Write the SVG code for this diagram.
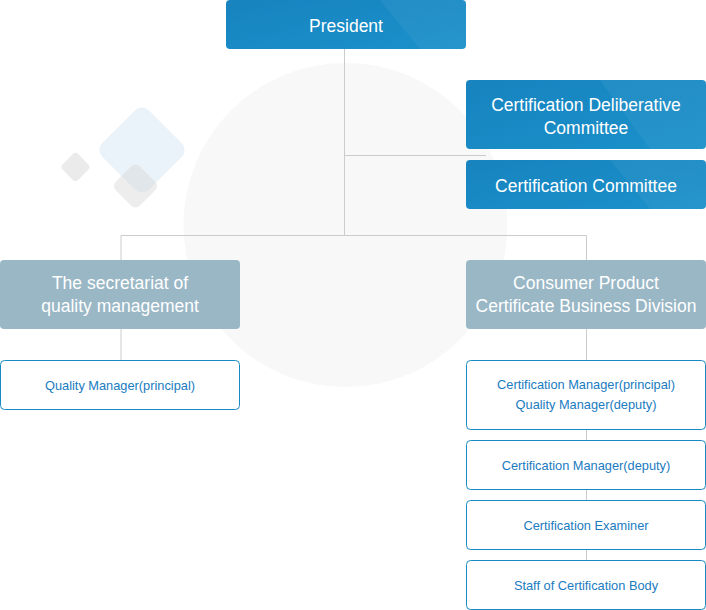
<svg xmlns="http://www.w3.org/2000/svg" width="706" height="610" viewBox="0 0 706 610">
<defs>
<linearGradient id="blue" x1="0" y1="0" x2="1" y2="1">
<stop offset="0" stop-color="#1783bf"/>
<stop offset="1" stop-color="#1a91ca"/>
</linearGradient>
<style>
.blue{fill:url(#blue);}
.grey{fill:#9ab7c6;}
.wbox{fill:#ffffff;stroke:#1a8ac4;stroke-width:1;}
.tl{font-family:"Liberation Sans",Arial,sans-serif;font-size:17.5px;fill:#ffffff;text-anchor:middle;}
.ts{font-family:"Liberation Sans",Arial,sans-serif;font-size:12.8px;fill:#1a7bbf;text-anchor:middle;}
.ln{stroke:#cccccc;stroke-width:1;fill:none;}
.tex{fill:#ffffff;opacity:0.05;}
</style>
</defs>
<rect width="706" height="610" fill="#ffffff"/>
<g id="background">
<circle cx="345.5" cy="225" r="162" fill="#f8f8f8"/>
<rect x="109" y="117" width="66" height="66" rx="10" transform="rotate(45 142 150)" fill="#eaf3f9"/>
<rect x="64.5" y="156" width="22" height="22" rx="4" transform="rotate(45 75.5 167)" fill="#ebebeb"/>
<rect x="118.5" y="169" width="34" height="34" rx="6" transform="rotate(45 135.5 186)" fill="#d8d8d8" opacity="0.45"/>
</g>
<g id="connectors">
<path class="ln" d="M344.5 49 V235.5"/>
<path class="ln" d="M344.5 155.5 H486"/>
<path class="ln" d="M121 235.5 H586.5"/>
<path class="ln" d="M121 235.5 V360"/>
<path class="ln" d="M586.5 235.5 V560"/>
</g>
<g id="president">
<rect class="blue" x="226" y="0" width="240" height="49" rx="4"/>
<polygon class="tex" points="380,0 466,0 466,49 420,49"/>
<text class="tl" x="346" y="32">President</text>
</g>
<g id="deliberative">
<rect class="blue" x="466" y="80" width="240" height="69" rx="4"/>
<polygon class="tex" points="600,80 706,80 706,149 650,149"/>
<text class="tl" x="586" y="111">Certification Deliberative</text>
<text class="tl" x="586" y="134">Committee</text>
</g>
<g id="committee">
<rect class="blue" x="466" y="160" width="240" height="49" rx="4"/>
<polygon class="tex" points="610,160 706,160 706,209 650,209"/>
<text class="tl" x="586" y="192">Certification Committee</text>
</g>
<g id="secretariat">
<rect class="grey" x="0" y="260" width="240" height="69" rx="4"/>
<text class="tl" x="120" y="288.5">The secretariat of</text>
<text class="tl" x="120" y="312">quality management</text>
</g>
<g id="consumer">
<rect class="grey" x="466" y="260" width="240" height="69" rx="4"/>
<text class="tl" x="586" y="288.5">Consumer Product</text>
<text class="tl" x="586" y="312">Certificate Business Division</text>
</g>
<g id="quality-manager">
<rect class="wbox" x="0.5" y="360.5" width="239" height="49" rx="4"/>
<text class="ts" x="120" y="389.5">Quality Manager(principal)</text>
</g>
<g id="cert-manager-principal">
<rect class="wbox" x="466.5" y="360.5" width="239" height="69" rx="4"/>
<text class="ts" x="586" y="389">Certification Manager(principal)</text>
<text class="ts" x="586" y="409">Quality Manager(deputy)</text>
</g>
<g id="cert-manager-deputy">
<rect class="wbox" x="466.5" y="440.5" width="239" height="49" rx="4"/>
<text class="ts" x="586" y="469.5">Certification Manager(deputy)</text>
</g>
<g id="examiner">
<rect class="wbox" x="466.5" y="500.5" width="239" height="49" rx="4"/>
<text class="ts" x="586" y="529.5">Certification Examiner</text>
</g>
<g id="staff">
<rect class="wbox" x="466.5" y="560.5" width="239" height="49" rx="4"/>
<text class="ts" x="586" y="589.5">Staff of Certification Body</text>
</g>
</svg>
